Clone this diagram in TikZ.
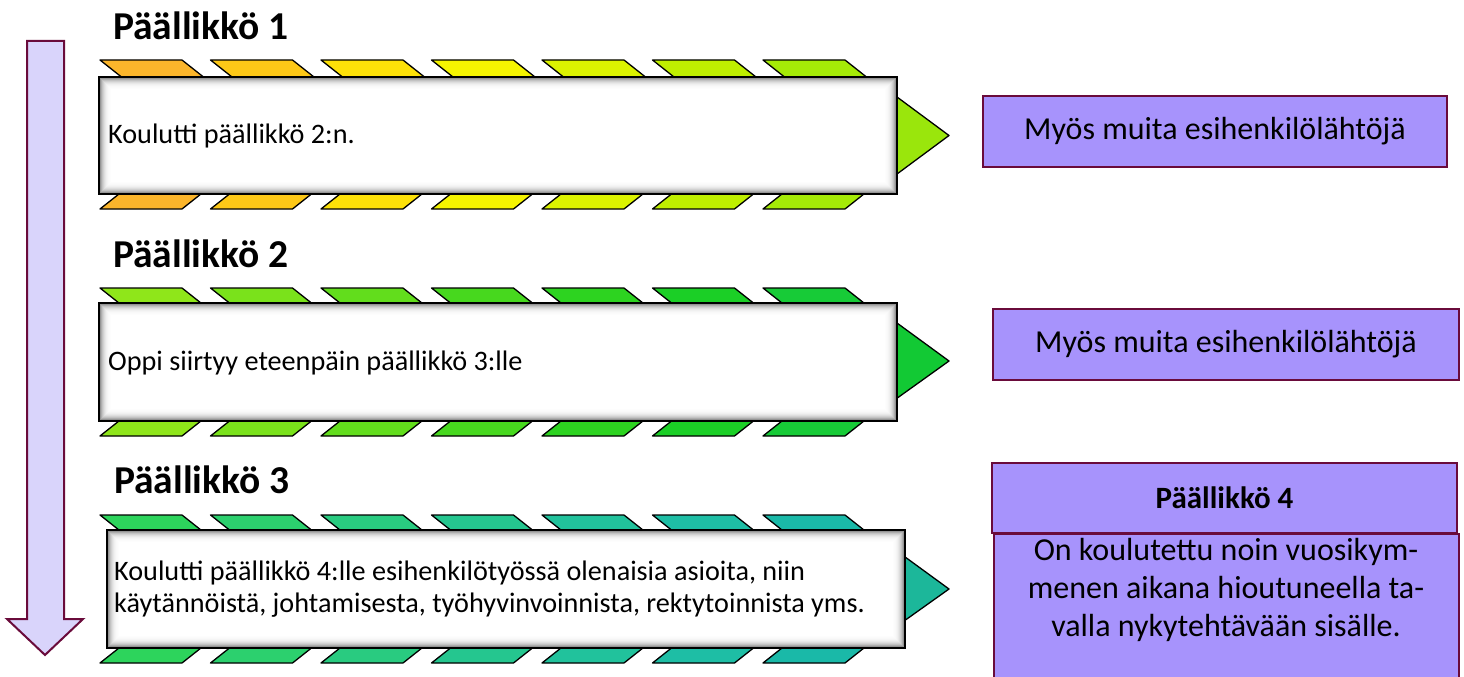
\documentclass[tikz,border=0pt]{standalone}
\usepackage{fontspec}
\setmainfont{Carlito}
\definecolor{lilac}{HTML}{D9D4FB}
\definecolor{lav}{HTML}{A793FC}
\definecolor{maroon}{HTML}{6A0B3B}
% band 1 colours (orange -> yellow -> green)
\definecolor{ao0}{HTML}{FBB52B}
\definecolor{ao1}{HTML}{FDC817}
\definecolor{ao2}{HTML}{FDE108}
\definecolor{ao3}{HTML}{F5F400}
\definecolor{ao4}{HTML}{DCF300}
\definecolor{ao5}{HTML}{BFEF00}
\definecolor{ao6}{HTML}{A5EB07}
\definecolor{aot}{HTML}{9AE60C}
% band 2 colours (greens)
\definecolor{bo0}{HTML}{8FE61A}
\definecolor{bo1}{HTML}{7AE21B}
\definecolor{bo2}{HTML}{62DD1C}
\definecolor{bo3}{HTML}{47D81E}
\definecolor{bo4}{HTML}{2DD320}
\definecolor{bo5}{HTML}{1BCF26}
\definecolor{bo6}{HTML}{17CB37}
\definecolor{bot}{HTML}{12C934}
% band 3 colours (green -> teal)
\definecolor{co0}{HTML}{2DD45C}
\definecolor{co1}{HTML}{2CD06E}
\definecolor{co2}{HTML}{29CB80}
\definecolor{co3}{HTML}{25C68F}
\definecolor{co4}{HTML}{21C29C}
\definecolor{co5}{HTML}{1EBEA5}
\definecolor{co6}{HTML}{1AB9A8}
\definecolor{cot}{HTML}{1CB79A}
\begin{document}
\begin{tikzpicture}[x=1pt,y=-1pt,
  chev/.style={draw=black, line width=1.3pt, line join=round},
  panel/.style={draw=black, line width=1.6pt, inner sep=0pt,
    path picture={
      \foreach \k/\c in {0/55,1/42,2/32,3/24,4/18,5/13,6/9,7/6,8/4,9/2.5,10/1.5,11/0.7,12/0}
        \fill[black!\c] ([shift={(\k pt,-\k pt)}]path picture bounding box.north west)
          rectangle ([shift={(-\k pt,\k pt)}]path picture bounding box.south east);
    }},
  ttl/.style={font=\bfseries\fontsize{39.5}{46}\selectfont, anchor=base west, inner sep=0pt},
  lbl/.style={font=\fontsize{28.2}{32}\selectfont, anchor=base west, inner sep=0pt, align=left},
  sidebox/.style={draw=maroon, line width=2.2pt, fill=lav, inner sep=0pt,
    font=\fontsize{32}{38}\selectfont}
]
\clip (0,0) rectangle (1464,677);
\fill[white] (0,0) rectangle (1464,677);

% downward time arrow
\draw[line width=2pt, draw=maroon, fill=lilac, line join=miter]
  (27,41) -- (64,41) -- (64,619) -- (83,619) -- (45,655) -- (7,619) -- (27,619) -- cycle;

% band 1
\foreach \i in {0,...,6}{
  \pgfmathsetmacro\xo{100+110.5*\i}
  \draw[chev, fill=ao\i] (\xo,60) -- ++(82,0) -- ++(24,19) -- ++(-82,0) -- cycle;
  \draw[chev, fill=ao\i] (\xo,209) -- ++(82,0) -- ++(24,-19) -- ++(-82,0) -- cycle;
}
\draw[chev, fill=aot] (880,84.4) -- (949,135.5) -- (880,186.6) -- cycle;
\node[panel, minimum width=798pt, minimum height=117pt] (p1) at (498,135.5) {};
\node[ttl] (t1) at (113,40) {Päällikkö 1};
\node[lbl] (l1) at (108,143) {Koulutti päällikkö 2:n.};

% band 2
\foreach \i in {0,...,6}{
  \pgfmathsetmacro\xo{100+110.5*\i}
  \draw[chev, fill=bo\i] (\xo,288) -- ++(82,0) -- ++(24,19) -- ++(-82,0) -- cycle;
  \draw[chev, fill=bo\i] (\xo,436) -- ++(82,0) -- ++(24,-19) -- ++(-82,0) -- cycle;
}
\draw[chev, fill=bot] (880,310.6) -- (949,361) -- (880,410.4) -- cycle;
\node[panel, minimum width=798pt, minimum height=118pt] (p2) at (498,362) {};
\node[ttl] (t2) at (113,267) {Päällikkö 2};
\node[lbl] (l2) at (108,370) {Oppi siirtyy eteenpäin päällikkö 3:lle};

% band 3
\foreach \i in {0,...,6}{
  \pgfmathsetmacro\xo{100+110.5*\i}
  \draw[chev, fill=co\i] (\xo,515) -- ++(82,0) -- ++(24,19) -- ++(-82,0) -- cycle;
  \draw[chev, fill=co\i] (\xo,663) -- ++(82,0) -- ++(24,-19) -- ++(-82,0) -- cycle;
}
\draw[chev, fill=cot] (890,546) -- (949,589) -- (890,631) -- cycle;
\node[panel, minimum width=798pt, minimum height=118pt] (p3) at (506,589) {};
\node[ttl] (t3) at (114,493) {Päällikkö 3};
% the base anchor of a multi-line node sits on its last line
\node[lbl] (l3) at (114,612) {Koulutti päällikkö 4:lle esihenkilötyössä olenaisia asioita, niin\\
  käytännöistä, johtamisesta, työhyvinvoinnista, rektytoinnista yms.};

% side notes
\node[sidebox, minimum width=464pt, minimum height=71pt] (r1) at (1215,131.5) {Myös muita esihenkilölähtöjä};
\node[sidebox, minimum width=466pt, minimum height=71pt] (r2) at (1226,344.5) {Myös muita esihenkilölähtöjä};
\node[sidebox, minimum width=465pt, minimum height=167pt, anchor=north] (r4b) at (1226.5,533) {};
\node[sidebox, minimum width=465pt, minimum height=70pt, font=\bfseries\fontsize{31}{38}\selectfont] (r4h) at (1224.5,498) {Päällikkö 4};
\node[font=\fontsize{32}{38}\selectfont, align=center, inner sep=0pt, anchor=base] (r4t) at (1226,636)
  {On koulutettu noin vuosikym-\\menen aikana hioutuneella ta-\\valla nykytehtävään sisälle.};
\end{tikzpicture}
\end{document}
